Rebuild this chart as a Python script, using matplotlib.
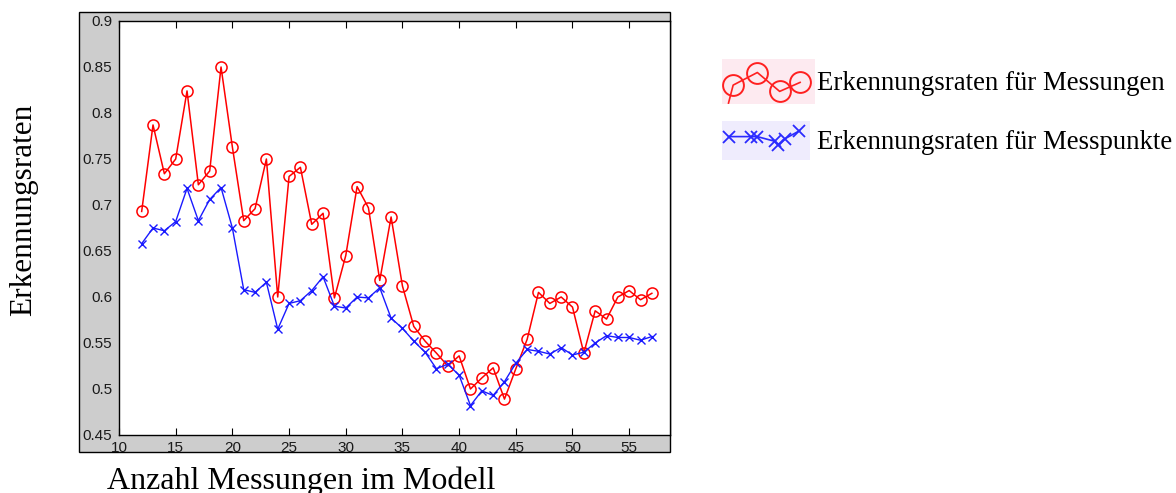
import matplotlib
matplotlib.use("Agg")
import matplotlib.pyplot as plt
from matplotlib.patches import Rectangle

# Recognition rates vs. number of measurements in the model
n_measurements = list(range(12, 58))

rate_measurements = [
    0.693, 0.787, 0.734, 0.750, 0.824, 0.722, 0.737, 0.850, 0.763, 0.683,
    0.696, 0.750, 0.600, 0.731, 0.741, 0.679, 0.691, 0.599, 0.645, 0.720,
    0.697, 0.618, 0.687, 0.612, 0.568, 0.552, 0.539, 0.525, 0.536, 0.500,
    0.512, 0.523, 0.489, 0.522, 0.554, 0.605, 0.593, 0.600, 0.589, 0.539,
    0.585, 0.576, 0.600, 0.607, 0.597, 0.604,
]

rate_points = [
    0.658, 0.675, 0.672, 0.682, 0.718, 0.683, 0.706, 0.719, 0.675, 0.608,
    0.605, 0.616, 0.565, 0.593, 0.596, 0.607, 0.622, 0.590, 0.588, 0.600,
    0.599, 0.610, 0.577, 0.566, 0.552, 0.540, 0.522, 0.527, 0.515, 0.482,
    0.498, 0.493, 0.508, 0.528, 0.543, 0.541, 0.538, 0.545, 0.537, 0.540,
    0.550, 0.558, 0.556, 0.556, 0.553, 0.557,
]

x_ticks = [10, 15, 20, 25, 30, 35, 40, 45, 50, 55]
y_ticks = [0.45, 0.5, 0.55, 0.6, 0.65, 0.7, 0.75, 0.8, 0.85, 0.9]
y_tick_labels = ["0.45", "0.5", "0.55", "0.6", "0.65", "0.7", "0.75", "0.8", "0.85", "0.9"]

legend_labels = ["Erkennungsraten für Messungen", "Erkennungsraten für Messpunkte"]

# small line glyphs used as legend keys
key_red_x = [0.07, 0.12, 0.38, 0.62, 0.84]
key_red_y = [0.02, 0.42, 0.70, 0.28, 0.48]
key_blue_x = [0.08, 0.33, 0.40, 0.60, 0.64, 0.72, 0.88]
key_blue_y = [0.60, 0.60, 0.60, 0.48, 0.38, 0.55, 0.75]

W, H = 1176, 493
fig = plt.figure(figsize=(W / 100, H / 100), dpi=100)
fig.patch.set_facecolor("white")


def fx(px):
    return px / W


def fy(py):
    return 1 - py / H


# grey figure panel behind the axes
fig.patches.append(Rectangle((fx(79), fy(452)), fx(670) - fx(79), fy(12) - fy(452),
                             transform=fig.transFigure, facecolor="#cdcdcd",
                             edgecolor="black", linewidth=1.0, zorder=-5))

ax = fig.add_axes([fx(119), fy(435), fx(670) - fx(119), fy(21) - fy(435)])
ax.set_zorder(2)
ax.set_facecolor("white")

ax.plot(n_measurements, rate_measurements, color="#ff0000", linewidth=1.1,
        marker="o", markersize=8, markerfacecolor="none", markeredgecolor="#ff0000",
        markeredgewidth=1.1, zorder=3)
ax.plot(n_measurements, rate_points, color="#1a1aff", linewidth=1.0,
        marker="x", markersize=5.5, markeredgewidth=1.0, zorder=4)

ax.set_xlim(10, 58.6)
ax.set_ylim(0.45, 0.9)
ax.set_xticks(x_ticks)
ax.set_yticks(y_ticks)
ax.set_yticklabels(y_tick_labels)

for lab in ax.get_xticklabels() + ax.get_yticklabels():
    lab.set_fontfamily("Liberation Sans")
    lab.set_fontsize(11)
    lab.set_color("#1a1a1a")

ax.tick_params(axis="x", direction="in", length=5, width=0.8, top=True, pad=4)
ax.tick_params(axis="y", direction="in", length=0, pad=5)
for s in ax.spines.values():
    s.set_linewidth(1.0)
    s.set_color("black")

serif = ["Liberation Serif", "DejaVu Serif"]
fig.text(fx(24), fy(210), "Erkennungsraten", rotation=90, ha="center", va="center",
         family=serif, fontsize=22.5)
fig.text(fx(107), fy(489), "Anzahl Messungen im Modell", ha="left", va="baseline",
         family=serif, fontsize=23)

# legend: keys on tinted boxes, labels beside them
k1 = fig.add_axes([fx(722), fy(104), fx(815) - fx(722), fy(59) - fy(104)])
k1.set_facecolor("#fdeaf0")
k1.plot(key_red_x, key_red_y, color="#ff2020", linewidth=1.2)
k1.plot(key_red_x[1:], key_red_y[1:], linestyle="none", marker="o", markersize=15,
        markerfacecolor="none", markeredgecolor="#ff2020", markeredgewidth=1.4)
k1.set_xlim(0, 1)
k1.set_ylim(0, 1)
for s in k1.spines.values():
    s.set_visible(False)
k1.set_xticks([])
k1.set_yticks([])

k2 = fig.add_axes([fx(722), fy(160), fx(810) - fx(722), fy(121) - fy(160)])
k2.set_facecolor("#efecfd")
k2.plot(key_blue_x, key_blue_y, color="#2a2aff", linewidth=1.2, marker="x",
        markersize=8, markeredgewidth=1.3)
k2.set_xlim(0, 1)
k2.set_ylim(0, 1)
for s in k2.spines.values():
    s.set_visible(False)
k2.set_xticks([])
k2.set_yticks([])

fig.text(fx(817), fy(84), legend_labels[0], ha="left", va="center",
         family=serif, fontsize=19.3)
fig.text(fx(817), fy(142), legend_labels[1], ha="left", va="center",
         family=serif, fontsize=19.3)

fig.savefig("out.png", dpi=100)
